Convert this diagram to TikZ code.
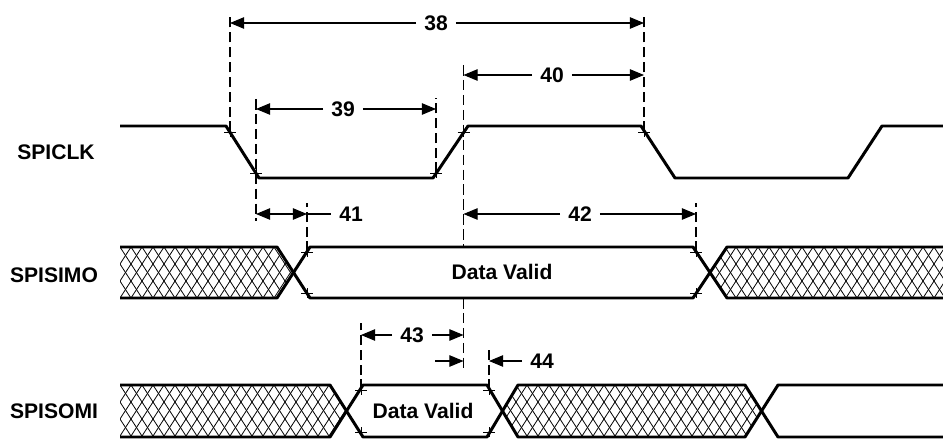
\documentclass[tikz,border=0pt]{standalone}
\usepackage{fontspec}
\setmainfont{Liberation Sans}
\usetikzlibrary{arrows.meta,calc}

\tikzset{
	sig/.style={line width=1.7pt, line join=round},
	hatch/.style={line width=0.45pt},
	guide/.style={line width=0.6pt, dash pattern=on 6pt off 2.5pt},
	dim/.style={line width=0.6pt},
	tip/.style={-{Triangle[length=8pt,width=6.5pt]}},
	edgetick/.style={line width=0.5pt},
	signame/.style={font=\fontsize{12}{14}\selectfont\bfseries, inner sep=0pt},
	num/.style={font=\fontsize{12}{14}\selectfont\bfseries, inner sep=4.5pt}
}

\newcommand{\hatchlines}[4]{%
	\foreach \k in {0,...,#2}{
		\draw[hatch] (#1+11*\k,#3) -- ++(0.647*#4,#4);
		\draw[hatch] (#1+11*\k,#3) -- ++(-0.647*#4,#4);
	}}
\newcommand{\edgemark}[1]{%
	\draw[edgetick] ($(#1)+(-6,0)$) -- ++(12,0) ($(#1)+(0,-5)$) -- ++(0,10);}

\begin{document}
\begin{tikzpicture}[x=0.02cm, y=-0.02cm]
	\useasboundingbox (0,0) rectangle (943,439);
	
	%signal names
	\node[signame] (clk) at (56,152) {SPICLK};
	\node[signame] (simo) at (54,275) {SPISIMO};
	\node[signame] (somi) at (54,411) {SPISOMI};
	
	%band levels
	\coordinate (simo-t) at (0,247);
	\coordinate (simo-b) at (0,298);
	
	%SPICLK
	\draw[sig] (120,126) -- (226,126) -- (259,178) -- (433,178) -- (468,126) -- (641,126) -- (675,178) -- (848,178) -- (882,126) -- (943,126);
	\coordinate (a) at (230,132);
	\coordinate (b) at (256,173);
	\coordinate (c) at (436,173);
	\coordinate (d) at (463.5,132);
	\coordinate (e) at (644,132);
	
	%SPISIMO
	\begin{scope}
		\clip (120,247) -- (277,247) -- (293.5,272.5) -- (277,298) -- (120,298) -- cycle;
		\hatchlines{87}{24}{247}{51}
	\end{scope}
	\begin{scope}
		\clip (727,247) -- (943,247) -- (943,298) -- (727,298) -- (710,272.5) -- cycle;
		\hatchlines{670}{28}{247}{51}
	\end{scope}
	\draw[sig] (120,247) -- (277,247) -- (310,298) -- (693,298) -- (727,247) -- (943,247);
	\draw[sig] (120,298) -- (277,298) -- (310,247) -- (693,247) -- (727,298) -- (943,298);
	\node[signame] (valid1) at (502,272) {Data Valid};
	\coordinate (f) at (307,252);
	\coordinate (f2) at (307,293);
	\coordinate (g) at (696,252);
	\coordinate (g2) at (696,293);
	
	%SPISOMI
	\begin{scope}
		\clip (120,385) -- (330,385) -- (346.5,411) -- (330,437) -- (120,437) -- cycle;
		\hatchlines{87}{27}{385}{52}
	\end{scope}
	\begin{scope}
		\clip (518,385) -- (745,385) -- (761.5,411) -- (745,437) -- (518,437) -- (502.5,411) -- cycle;
		\hatchlines{461}{31}{385}{52}
	\end{scope}
	\draw[sig] (120,385) -- (330,385) -- (363,437) -- (487,437) -- (518,385) -- (745,385) -- (778,437) -- (943,437);
	\draw[sig] (120,437) -- (330,437) -- (363,385) -- (487,385) -- (518,437) -- (745,437) -- (778,385) -- (943,385);
	\node[signame] (valid2) at (423,411) {Data Valid};
	\coordinate (h) at (361,390);
	\coordinate (h2) at (361,432);
	\coordinate (i) at (489,390);
	\coordinate (i2) at (489,432);
	
	%edge marks
	\foreach \p in {a,b,c,d,e,f,f2,g,g2,h,h2,i,i2}{
		\edgemark{\p}
	}
	
	%timing labels
	\node[num] (n38) at (436,23) {38};
	\node[num] (n39) at (343,109) {39};
	\node[num] (n40) at (552,75) {40};
	\node[num] (n41) at (351,214) {41};
	\node[num] (n42) at (580,214) {42};
	\node[num] (n43) at (412,335) {43};
	\node[num] (n44) at (542,361) {44};
	\coordinate (l44) at (435,361);
	
	%guide lines
	\draw[guide] (a) -- ($(a |- n38)+(0,-10)$);
	\draw[guide] ($(b |- n39)+(0,-10)$) -- ($(b |- n41)+(0,7)$);
	\draw[guide] (c) -- ($(c |- n39)+(0,-11)$);
	\draw[guide] ($(d |- n40)+(0,-10)$) -- (d |- simo-t);
	\draw[guide] (d |- simo-b) -- ($(d |- n44)+(0,7)$);
	\draw[guide] (e) -- ($(e |- n38)+(0,-10)$);
	\draw[guide] (f) -- ($(f |- n41)+(0,-11)$);
	\draw[guide] (g) -- ($(g |- n42)+(0,-11)$);
	\draw[guide] (h) -- ($(h |- n43)+(0,-12)$);
	\draw[guide] (i) -- ($(i |- n44)+(0,-11)$);
	
	%dimension arrows
	\draw[dim,tip] (n38.west) -- (a |- n38);
	\draw[dim,tip] (n38.east) -- (e |- n38);
	\draw[dim,tip] (n39.west) -- (b |- n39);
	\draw[dim,tip] (n39.east) -- (c |- n39);
	\draw[dim,tip] (n40.west) -- (d |- n40);
	\draw[dim,tip] (n40.east) -- (e |- n40);
	\draw[dim,{Triangle[length=8pt,width=6.5pt]}-{Triangle[length=8pt,width=6.5pt]}] (b |- n41) -- (f |- n41);
	\draw[dim] (f |- n41) -- (n41.west);
	\draw[dim,tip] (n42.west) -- (d |- n42);
	\draw[dim,tip] (n42.east) -- (g |- n42);
	\draw[dim,tip] (n43.west) -- (h |- n43);
	\draw[dim,tip] (n43.east) -- (d |- n43);
	\draw[dim,tip] (l44) -- (d |- n44);
	\draw[dim,tip] (n44.west) -- (i |- n44);
\end{tikzpicture}
\end{document}
